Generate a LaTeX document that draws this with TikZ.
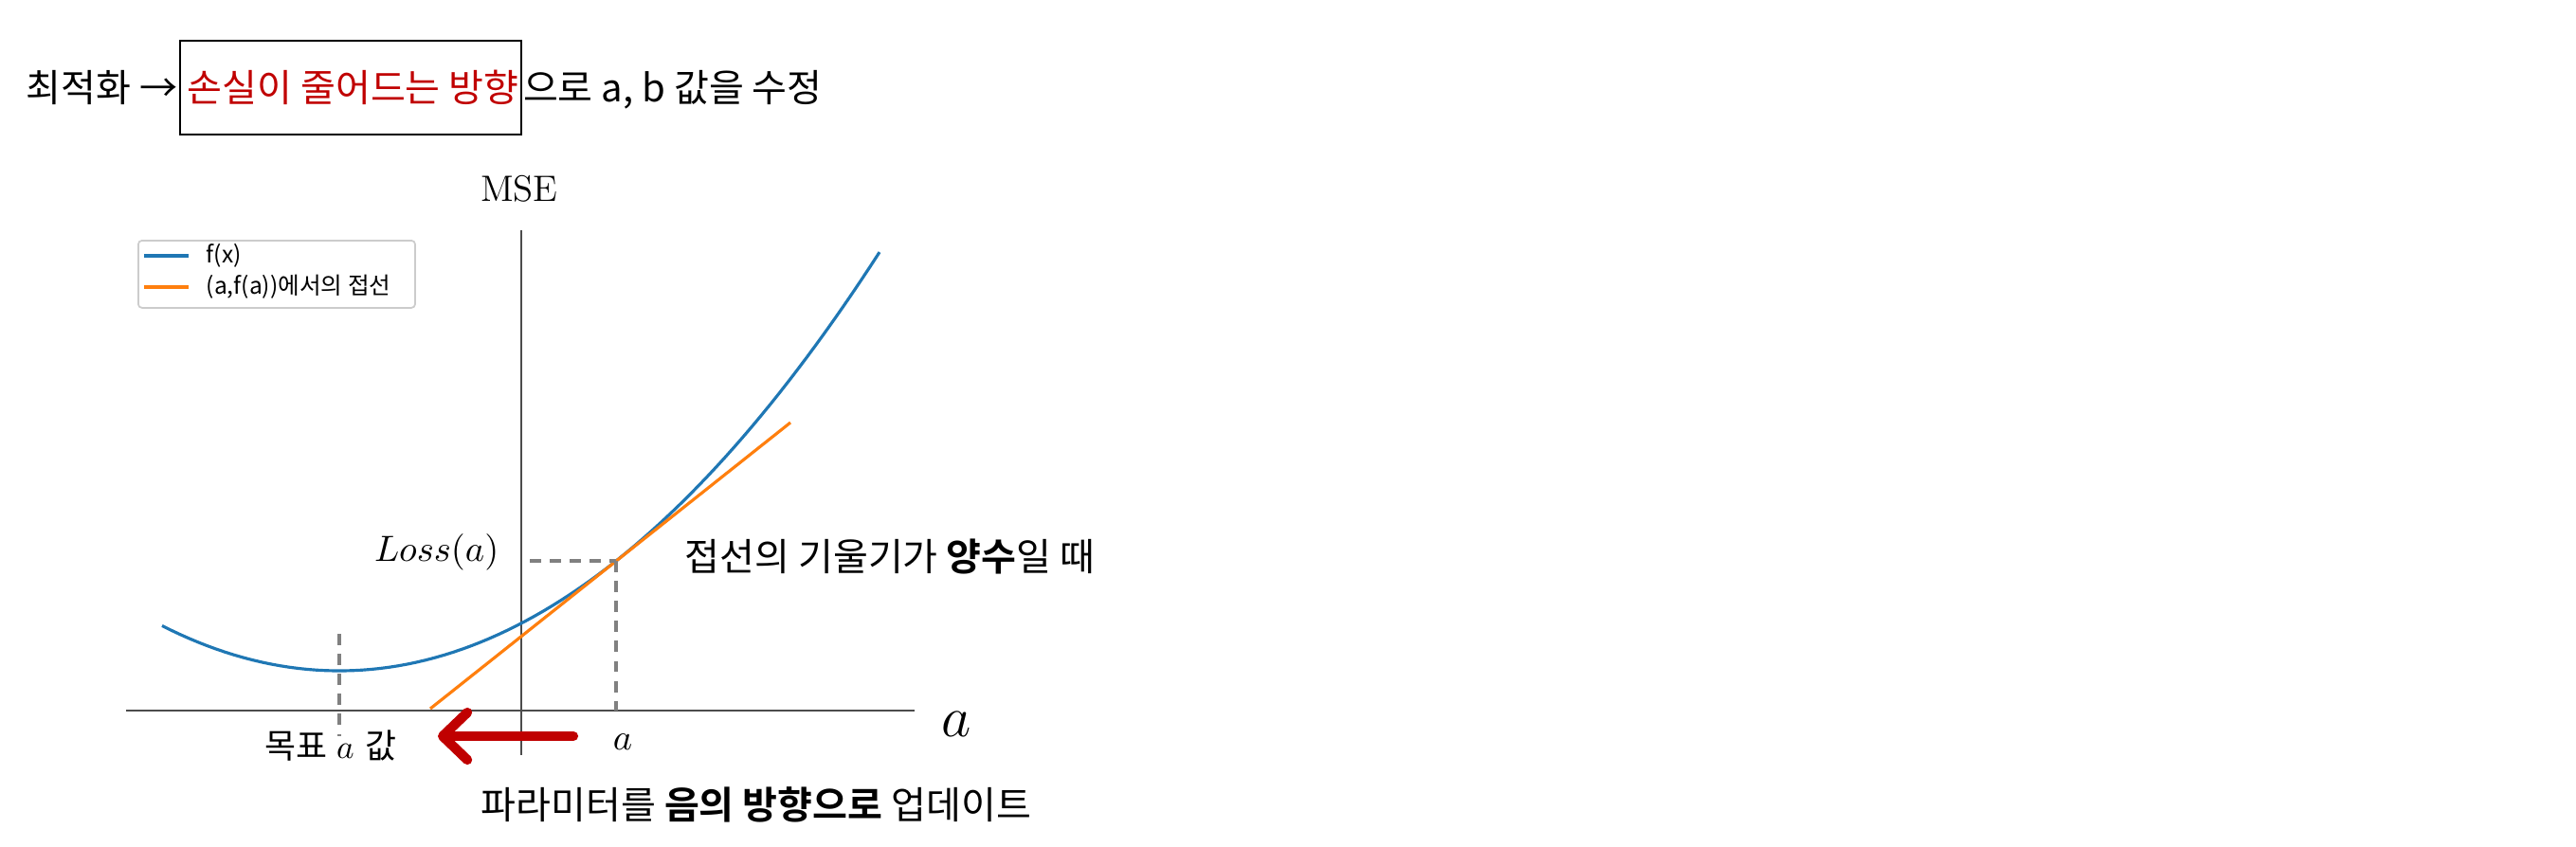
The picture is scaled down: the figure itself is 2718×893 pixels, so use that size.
\documentclass[tikz,border=0pt]{standalone}
\usepackage{fontspec}
\usepackage{xcolor}
\usepackage{tikz}
\usetikzlibrary{arrows.meta,positioning,calc}
\newfontfamily\kofont{Noto Sans CJK KR}[BoldFont={Noto Sans CJK KR Bold}]
\definecolor{mplblue}{HTML}{1F77B4}
\definecolor{mplorange}{HTML}{FF7F0E}
\definecolor{lossred}{HTML}{C00000}

\begin{document}
\begin{tikzpicture}[
  x=0.01cm, y=-0.01cm,
  kotext/.style={font=\kofont\fontsize{11.4}{13}\selectfont, inner sep=0pt},
  legtext/.style={font=\kofont\fontsize{7}{8}\selectfont, inner sep=0pt, anchor=west},
  axis/.style={draw=black!70, line width=0.6pt},
  guide/.style={draw=black!50, line width=1pt, dash pattern=on 3.4pt off 2.6pt},
  curve/.style={draw=mplblue, line width=0.9pt},
  tangent/.style={draw=mplorange, line width=0.9pt},
  arrow/.style={-{Straight Barb[round, length=0.26cm, width=0.5cm]}, draw=lossred, line width=2.9pt, line cap=round}
]
  \useasboundingbox (0,0) rectangle (2718,893);

  \node[kotext, anchor=base west] (opt) at (27,107) {최적화 →};
  \node[draw, line width=0.6pt, minimum width=3.6cm, minimum height=0.99cm, anchor=north west] (box) at (189,42) {};
  \node[kotext, text=lossred, anchor=base west] (dir) at ($(box.west |- opt.base)+(8,0)$) {손실이 줄어드는 방향};
  \node[kotext, anchor=base west] (rest) at (box.east |- opt.base) {으로 a, b 값을 수정};

  \draw[axis] (133,750) -- (965,750);
  \draw[axis] (550,243) -- (550,797);
  \node[font=\fontsize{11}{13}\selectfont] (mse) at (548,199) {MSE};
  \node[font=\fontsize{18}{20}\selectfont, inner sep=0pt] (xlab) at (1009,764) {$a$};

  \node[draw=black!20, line width=0.5pt, rounded corners=0.04cm, minimum width=2.92cm, minimum height=0.71cm, anchor=north west] (legend) at (145,253) {};
  \draw[curve, line width=1.1pt] (152,270) -- (199,270);
  \node[legtext] (legf) at (217,270) {f(x)};
  \draw[tangent, line width=1.1pt] (152,303) -- (199,303);
  \node[legtext] (legt) at (217,303) {(a,f(a))에서의 접선};

  \draw[curve] plot[domain=171:928, samples=80] (\x, {708-13.6*((\x-358)/100)^2});
  \coordinate (pa) at (650,592);
  \draw[tangent] (454,748) -- (834,446);

  \draw[guide] (559,592) -- (pa);
  \draw[guide] (pa) -- (650,750);
  \draw[guide] (358,669) -- (358,777);

  \node[font=\fontsize{10.5}{12}\selectfont, anchor=east, inner sep=0pt] (loss) at (527,583) {$Loss(a)$};
  \node[font=\fontsize{11}{13}\selectfont, inner sep=0pt] (alab) at (657,783) {$a$};
  \node[kotext, font=\kofont\fontsize{10.2}{12}\selectfont] (goal) at (349,787) {목표\hspace{0.1cm}$a$\hspace{0.12cm}값};
  \node[kotext, anchor=west] (pos) at (722,587) {접선의 기울기가 \textbf{양수}일 때};
  \node[kotext, anchor=west] (upd) at (507,849) {파라미터를 \textbf{음의 방향으로} 업데이트};

  \coordinate (arrtail) at (605,777);
  \coordinate (arrtip) at (462,777);
  \draw[arrow] (arrtail) -- (arrtip);
\end{tikzpicture}
\end{document}
